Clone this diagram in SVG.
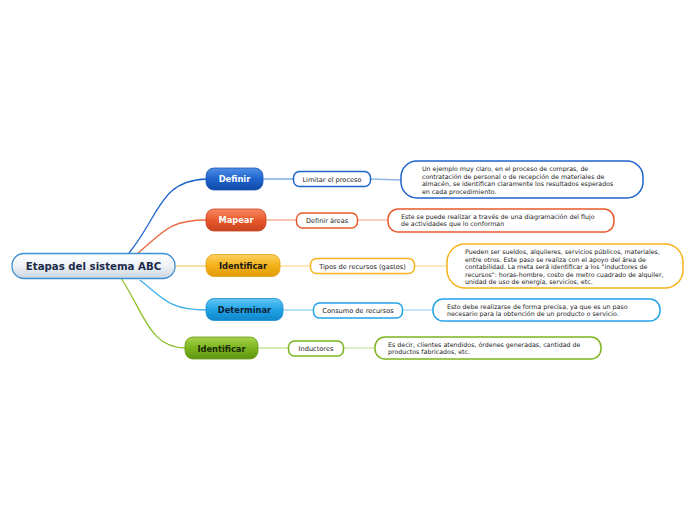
<svg xmlns="http://www.w3.org/2000/svg" width="696" height="520" viewBox="0 0 696 520">
<defs>
<linearGradient id="gRoot" x1="0" y1="0" x2="0" y2="1"><stop offset="0" stop-color="#ffffff"/><stop offset="0.5" stop-color="#eef2f6"/><stop offset="1" stop-color="#c9d3de"/></linearGradient>
<linearGradient id="gBlue" x1="0" y1="0" x2="0" y2="1"><stop offset="0" stop-color="#4f8fe6"/><stop offset="0.5" stop-color="#1f64cc"/><stop offset="1" stop-color="#0f4aa8"/></linearGradient>
<linearGradient id="gOrange" x1="0" y1="0" x2="0" y2="1"><stop offset="0" stop-color="#f78a66"/><stop offset="0.5" stop-color="#e85a2c"/><stop offset="1" stop-color="#c8431c"/></linearGradient>
<linearGradient id="gYellow" x1="0" y1="0" x2="0" y2="1"><stop offset="0" stop-color="#fcd060"/><stop offset="0.5" stop-color="#f5b21a"/><stop offset="1" stop-color="#e09a08"/></linearGradient>
<linearGradient id="gSky" x1="0" y1="0" x2="0" y2="1"><stop offset="0" stop-color="#64c6f4"/><stop offset="0.5" stop-color="#21a3e6"/><stop offset="1" stop-color="#0f86cc"/></linearGradient>
<linearGradient id="gGreen" x1="0" y1="0" x2="0" y2="1"><stop offset="0" stop-color="#a8d44c"/><stop offset="0.5" stop-color="#7cb41e"/><stop offset="1" stop-color="#5f9410"/></linearGradient>
</defs>
<style>
text{font-family:"DejaVu Sans","Liberation Sans",sans-serif}
.root{font-size:10.2px;font-weight:bold;fill:#1c2b4a}
.br{font-size:8.3px;font-weight:bold;text-anchor:middle}
.sub{font-size:6.6px;fill:#222;text-anchor:middle}
.note{font-size:6.3px;fill:#222}
.sb{fill:#fff;stroke-width:1.5}
.con{fill:none;stroke-width:1.3}
</style>
<rect width="696" height="520" fill="#ffffff"/>
<g id="connectors">
<path class="con" stroke="#1f64cc" d="M129,253 C160,215 160,180 207,179"/>
<path class="con" stroke="#ec6a42" d="M137,254 C165,230 170,220 207,220"/>
<path class="con" stroke="#f9cf72" d="M175,266 L207,266"/>
<path class="con" stroke="#3ab0ea" d="M140,280 C165,300 170,310 207,310"/>
<path class="con" stroke="#8cc12a" d="M121,278 C145,315 150,348 186,348"/>
<path class="con" stroke="#6b9ee0" stroke-width="1" d="M262,179 L293,179"/>
<path class="con" stroke="#f5a48a" stroke-width="1" d="M265,220 L296,220"/>
<path class="con" stroke="#fbdc98" stroke-width="1" d="M280,266 L310,266"/>
<path class="con" stroke="#8fd0f2" stroke-width="1" d="M283,310 L313,310"/>
<path class="con" stroke="#bde08a" stroke-width="1" d="M258,348 L288,348"/>
<path class="con" stroke="#8fb3e8" stroke-width="1" d="M370,179 L401,180"/>
<path class="con" stroke="#f7b7a2" stroke-width="1" d="M357,220 L388,220"/>
<path class="con" stroke="#fce0a8" stroke-width="1" d="M414,266 L447,266"/>
<path class="con" stroke="#a8daf4" stroke-width="1" d="M402,310 L433,310"/>
<path class="con" stroke="#cce7a6" stroke-width="1" d="M343,348 L375,348"/>
</g>
<g id="root">
<rect x="12" y="253.5" width="163" height="25" rx="12" fill="url(#gRoot)" stroke="#3d8fd3" stroke-width="1.3"/>
<text class="root" x="93.5" y="270" text-anchor="middle">Etapas del sistema ABC</text>
</g>
<g id="b1">
<rect x="206" y="168" width="57" height="22" rx="8" fill="url(#gBlue)" stroke="#1a56b8" stroke-width="0.8"/>
<text class="br" x="234.5" y="182" fill="#ffffff">Definir</text>
</g>
<g id="b2">
<rect x="206" y="209" width="60" height="22" rx="8" fill="url(#gOrange)" stroke="#c8431c" stroke-width="0.8"/>
<text class="br" x="236" y="223" fill="#ffffff">Mapear</text>
</g>
<g id="b3">
<rect x="206" y="254.5" width="74" height="22" rx="8" fill="url(#gYellow)" stroke="#e3a010" stroke-width="0.8"/>
<text class="br" x="243" y="269" fill="#1a1a1a">Identificar</text>
</g>
<g id="b4">
<rect x="206" y="298.5" width="77" height="22" rx="8" fill="url(#gSky)" stroke="#1a8ed2" stroke-width="0.8"/>
<text class="br" x="244.5" y="313" fill="#0d1f33">Determinar</text>
</g>
<g id="b5">
<rect x="185" y="337" width="73" height="22" rx="8" fill="url(#gGreen)" stroke="#649a14" stroke-width="0.8"/>
<text class="br" x="221.5" y="351.5" fill="#1a2a08">Identificar</text>
</g>
<g id="s1">
<rect class="sb" x="293.5" y="171.5" width="77" height="15" rx="6" stroke="#1f64cc"/>
<text class="sub" x="332" y="181.5">Limitar el proceso</text>
</g>
<g id="s2">
<rect class="sb" x="296.5" y="213" width="61" height="15" rx="6" stroke="#e85a2c"/>
<text class="sub" x="327" y="223">Definir áreas</text>
</g>
<g id="s3">
<rect class="sb" x="310.5" y="258.5" width="104" height="15" rx="6" stroke="#f5b21a"/>
<text class="sub" x="362.5" y="268.5">Tipos de recursos (gastos)</text>
</g>
<g id="s4">
<rect class="sb" x="313.5" y="303" width="89" height="15" rx="6" stroke="#21a3e6"/>
<text class="sub" x="358" y="313">Consumo de recursos</text>
</g>
<g id="s5">
<rect class="sb" x="288.5" y="341" width="55" height="15" rx="6" stroke="#7cb41e"/>
<text class="sub" x="316" y="351">Inductores</text>
</g>
<g id="n1">
<rect class="sb" x="401" y="161" width="242" height="37" rx="16" stroke="#1f64cc"/>
<text class="note" x="422" y="171">Un ejemplo muy claro, en el proceso de compras, de</text>
<text class="note" x="422" y="178.5">contratación de personal o de recepción de materiales de</text>
<text class="note" x="422" y="186">almacén, se identifican claramente los resultados esperados</text>
<text class="note" x="422" y="193.5">en cada procedimiento.</text>
</g>
<g id="n2">
<rect class="sb" x="388" y="209" width="226" height="23" rx="10" stroke="#e85a2c"/>
<text class="note" x="401" y="218.5">Este se puede realizar a través de una diagramación del flujo</text>
<text class="note" x="401" y="226">de actividades que lo conforman</text>
</g>
<g id="n3">
<rect class="sb" x="447" y="244" width="236" height="44" rx="18" stroke="#f5b21a"/>
<text class="note" x="465" y="254">Pueden ser sueldos, alquileres, servicios públicos, materiales,</text>
<text class="note" x="465" y="261.5">entre otros. Este paso se realiza con el apoyo del área de</text>
<text class="note" x="465" y="269">contabilidad. La meta será identificar a los "inductores de</text>
<text class="note" x="465" y="276.5">recursos": horas-hombre, costo de metro cuadrado de alquiler,</text>
<text class="note" x="465" y="284">unidad de uso de energía, servicios, etc.</text>
</g>
<g id="n4">
<rect class="sb" x="433" y="299" width="227" height="22" rx="10" stroke="#21a3e6"/>
<text class="note" x="447" y="308.5">Esto debe realizarse de forma precisa, ya que es un paso</text>
<text class="note" x="447" y="316">necesario para la obtención de un producto o servicio.</text>
</g>
<g id="n5">
<rect class="sb" x="375" y="337" width="226" height="22" rx="10" stroke="#7cb41e"/>
<text class="note" x="388" y="346.5">Es decir, clientes atendidos, órdenes generadas, cantidad de</text>
<text class="note" x="388" y="354">productos fabricados, etc.</text>
</g>
</svg>
